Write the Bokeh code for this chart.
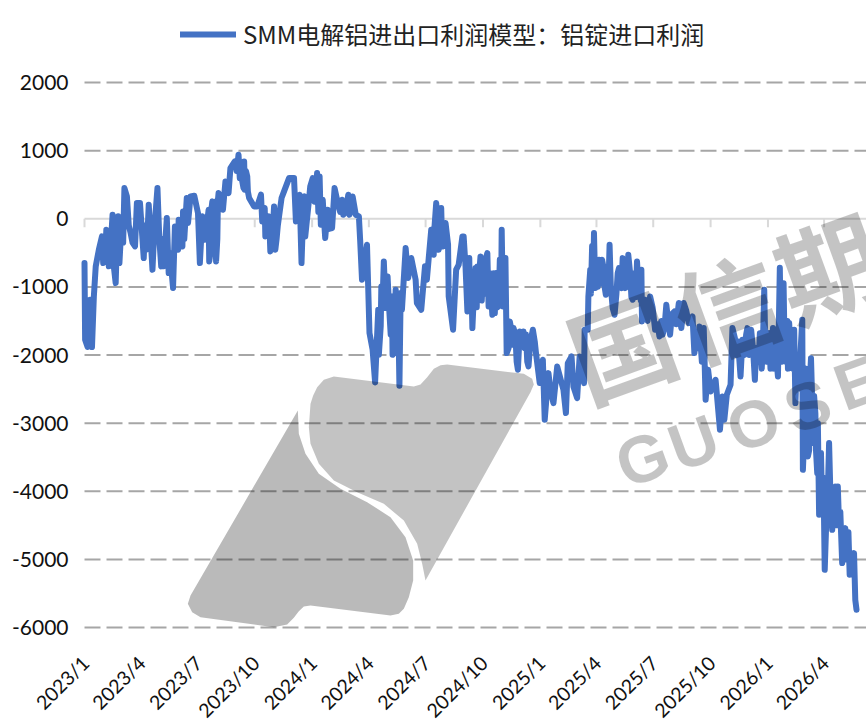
from datetime import date, timedelta
from bokeh.embed import file_html
from bokeh.resources import INLINE
from bokeh.plotting import figure
from bokeh.models import (ColumnDataSource, Legend, LegendItem, Label, PolyAnnotation, Range1d)

SERIES_NAME = "SMM电解铝进出口利润模型：铝锭进口利润"
START = date(2023, 1, 1)
tick_labels = ["2023/1","2023/4","2023/7","2023/10","2024/1","2024/4","2024/7","2024/10",
               "2025/1","2025/4","2025/7","2025/10","2026/1","2026/4"]
y_ticks = [2000,1000,0,-1000,-2000,-3000,-4000,-5000,-6000]
y_tick_labels = ["2000","1000","0","-1000","-2000","-3000","-4000","-5000","-6000"]

days_2023 = [0,1,5,9,12,15,18,23,28,30,35,39,45,50,54,58,64,68,74,81,84,89,95,103,109,117,123,127,132,135,142,145,150,151,157,158,164,166,170,176,182,185,
  189,193,199,200,205,211,214,215,222,226,231,234,241,247,249,256,257,261,264,272,277,283,285,289,290,296,298,304,306,312,316,320,328,336,339,345,348,353,354,360,362]
vals_2023 = [-650,-1776,-1883,-1189,-1883,-1140,-699,-455,-259,-650,-161,-699,59,-944,35,-308,450,328,-210,-406,230,230,-577,206,-748,450,-699,-699,10,-797,-1017,-112,-455,-14,-406,108,304,-63,328,338,84,-650,
  35,-308,132,-626,255,-626,279,377,132,548,377,744,842,940,597,842,426,622,304,181,181,353,-39,157,-259,35,-479,181,-455,35,304,402,597,597,-39,353,-650,328,-259,279,475]
days_2024 = [366,373,377,379,382,386,390,397,401,405,413,415,423,425,430,435,440,442,445,453,457,462,466,471,472,475,476,480,483,486,489,493,494,499,501,505,507,509,515,519,524,531,533,540,546,549,552,556,560,564,568,572,575,579,583,584,591,596,600,606,608,614,617,622,627,632,635,639,646,648,654,658,660,664,669,671,675,677,682,686,688,695,698,702,704,712,719,724]
vals_2024 = [597,671,622,-88,279,-283,132,-137,450,279,279,59,353,59,328,59,35,-308,-895,-381,-1678,-1923,-2402,-1336,-1996,-1580,-993,-626,-1311,-846,-1384,-1140,-1996,-1042,-1972,-2451,-1091,-1336,-430,-871,-577,-895,-1238,-1336,-699,-895,-577,-161,-528,230,-455,157,-406,-63,-381,-1140,-1629,-748,-675,-259,-259,-1360,-577,-1605,-724,-1189,-553,-822,-504,-1287,-1409,-1384,-797,-1287,-161,-1287,-577,-1972,-1507,-1849,-1605,-2216,-1654,-1874,-1654,-2167,-1629,-1972]
days_2025 = [730,735,738,744,747,752,758,768,772,775,781,784,790,794,801,802,807,808,811,817,819,825,830,836,842,847,850,857,861,863,867,872,879,886,893,894,899,907,915,922,927,933,939,946,953,957,961,969,975,978,986,993,996,1000,1004,1012,1019,1023,1026,1030,1036,1039,1043,1052,1055,1063,1069,1075,1079,1083,1090]
vals_2025 = [-2412,-2069,-2950,-2266,-2510,-2706,-2168,-2510,-2853,-2119,-2021,-2462,-2633,-2021,-2413,-1630,-1630,-1140,-749,-211,-1018,-602,-602,-1116,-382,-1312,-1410,-725,-1018,-578,-1018,-529,-1189,-627,-749,-1507,-1189,-1140,-1630,-1728,-1703,-1263,-1703,-1361,-1238,-1605,-1238,-1532,-1434,-1972,-1581,-1605,-2657,-2217,-2535,-2364,-3098,-2608,-2951,-2584,-2437,-1605,-1752,-2315,-1776,-1605,-1630,-2364,-1923,-1679,-1043]
days_2026 = [1092,1098,1103,1104,1112,1115,1121,1123,1130,1133,1138,1140,1146,1151,1152,1160,1165,1169,1172,1175,1178,1181,1187,1194,1199,1204,1208,1215,1220,1227,1234,1236,1238]
vals_2026 = [-2021,-1679,-2168,-1605,-2315,-720,-945,-2095,-1532,-2070,-1630,-2706,-2217,-1483,-3685,-3489,-2046,-3293,-2853,-3734,-4345,-3440,-5153,-3293,-4566,-3930,-3930,-5055,-4541,-5226,-4908,-5593,-5740]

# further swings read from the densely filled stretches of the curve
days_dense = [33,37,41,47,52,56,60,62,71,77,97,100,112,120,125,137,148,153,160,196,202,203,208,209,213,244,252,255,259,262,301,308,310,350,351,
  369,375,392,410,419,428,478,485,491,497,503,561,566,570,573,577,611,618,620,624,629,630,633,637,641,643,650,652,656,662,666,668,673,680,684,691,693,700,706,708,710,715,722,
  812,814,816,821,823,828,832,834,838,840,844,853,855,859,865,869,871,875,877,881,884,888,890,892,903,911,919,925,930,936,942,949,955,959,965,972,981,984,990,
  1045,1048,1058,1061,1066,1072,1077,1081,1086,1088,1094,1096,1100,1101,1106,1108,1110,1117,1119,1125,1127,1128,1135,1136,1142,1144,1148,
  1155,1157,1162,1163,1167,1170,1173,1176,1179,1183,1185,1190,1192,1196,1201,1206,1210,1212,1217,1222,1225,1230,1232]
vals_dense = [-620,-300,-550,-700,-300,-650,-100,-350,-100,-350,-100,-450,-150,-300,-300,-500,-200,-350,-300,-100,-500,100,-300,250,-300,700,600,450,700,400,-300,-300,-100,-100,250,
  250,100,-150,100,100,150,-1200,-1200,-1700,-1500,-1300,-150,-50,-300,-200,-300,-700,-1300,-800,-1200,-1300,-700,-800,-1200,-1100,-600,-800,-1100,-800,-1300,-600,-1200,-800,-1900,-1600,-1700,-2100,-1700,-1900,-1700,-2100,-1800,-1800,
  -1100,-400,-800,-700,-1000,-950,-700,-1000,-800,-1050,-1000,-1100,-800,-1000,-900,-700,-1000,-800,-1150,-800,-1150,-950,-750,-1200,-1500,-1300,-1550,-1500,-1600,-1500,-1400,-1550,-1450,-1450,-1350,-1500,-1700,-1900,-2100,
  -2000,-1800,-2000,-1700,-2000,-1900,-1900,-2100,-2200,-1800,-2100,-1700,-2200,-1700,-2200,-1650,-2100,-2100,-1600,-2000,-1500,-2200,-1700,-2200,-2200,-2500,-2000,
  -3000,-2200,-3400,-2400,-2700,-2600,-3400,-3000,-3900,-4300,-3800,-4300,-4000,-4000,-4000,-4500,-4500,-4300,-4700,-5000,-4600,-5000,-5000]

def ms(d):
    return (d - date(1970, 1, 1)).total_seconds() * 1000

merged = sorted(zip(days_2023 + days_2024 + days_2025 + days_2026 + days_dense,
                    vals_2023 + vals_2024 + vals_2025 + vals_2026 + vals_dense), key=lambda t: t[0])
dates = [ms(START + timedelta(days=d)) for d, _ in merged]
profit = [v for _, v in merged]
source = ColumnDataSource(dict(date=dates, profit=profit))

tick_ms = []
for lab in tick_labels:
    yy, mm = lab.split("/")
    tick_ms.append(ms(date(int(yy), int(mm), 1)))

W, H = 866, 721
PLOT_LEFT, PLOT_TOP, PLOT_BOTTOM = 84, 82, 627   # page pixels of 2023/1, 2000 and -6000
UNITS_PER_PX = 8000 / (PLOT_BOTTOM - PLOT_TOP)
MS_PER_PX = (ms(date(2026, 4, 1)) - ms(START)) / 739.6
x_start = ms(START)
x_end = x_start + (W - PLOT_LEFT) * MS_PER_PX
x_low = x_start - PLOT_LEFT * MS_PER_PX
y_top = 2000 + PLOT_TOP * UNITS_PER_PX
y_low = -6000 - (H - PLOT_BOTTOM) * UNITS_PER_PX

# the frame fills the page so that slanted date labels left of the first tick are not cut
p = figure(width=W, height=H, output_backend="svg", toolbar_location=None, x_axis_type=None, y_axis_type=None,
           y_range=Range1d(y_low, y_top), x_range=Range1d(x_low, x_end),
           min_border=0, outline_line_color=None,
           background_fill_color="white", border_fill_color="white")

for tx, lab in zip(tick_ms, tick_labels):
    p.add_layout(Label(x=tx, y=-6000, text=lab, angle=45, angle_units="deg", x_offset=1, y_offset=-32,
                       text_align="right", text_baseline="middle", text_font="Lato", text_font_size="19.5px",
                       text_color="#111111", level="annotation"))
for ty, lab in zip(y_ticks, y_tick_labels):
    p.add_layout(Label(x=x_start, y=ty, text=lab, x_offset=-16, text_align="right", text_baseline="middle",
                       text_font="Lato", text_font_size="21px", text_color="#111111", level="annotation"))

grid_y = [t for t in y_ticks if t != 0]
p.segment(x0=[x_start]*len(grid_y), y0=grid_y, x1=[x_end]*len(grid_y), y1=grid_y,
          line_color="#a6a6a6", line_width=2, line_dash="16 6")
p.segment(x0=[x_start], y0=[0], x1=[x_end], y1=[0], line_color="#d9d9d9", line_width=2)
p.segment(x0=tick_ms, y0=[0]*len(tick_ms), x1=tick_ms, y1=[-125]*len(tick_ms), line_color="#d9d9d9", line_width=2)

line = p.line("date", "profit", source=source, line_color="#4472C4", line_width=6,
              line_join="round", line_cap="round")

legend = Legend(items=[LegendItem(label=SERIES_NAME, renderers=[line])],
                location=(180, H - 51), orientation="horizontal", background_fill_alpha=0,
                border_line_color=None, glyph_width=56, glyph_height=10, label_standoff=7,
                label_text_font="Noto Sans CJK SC", label_text_font_size="24px",
                label_text_color="#222222", margin=0, padding=0)
p.add_layout(legend, "center")

# watermark (overlay, darkens whatever is beneath); screen units run from the frame's lower left
def sx(x):
    return x
def sy(y):
    return H - y
def px(xs):
    return [sx(170 + v / 3) for v in xs]
def py(ys):
    return [sy(360 + v / 3) for v in ys]

up_x = [440,460,490,730,750,770,790,810,830,1060,1085,1090,1080,765,755,740,700,640,560,490,445,420,415,420,428]
up_y = [80,58,48,78,72,50,25,14,12,40,55,72,95,660,610,550,480,430,395,360,310,250,200,130,105]
lo_x = [382,385,405,445,510,590,660,705,728,728,715,700,685,660,420,400,385,370,350,310,90,65,52,60]
lo_y = [150,220,280,340,385,425,470,530,600,660,710,745,760,765,735,738,752,772,792,800,770,755,730,705]
for xs, ys, a in ((up_x, up_y, 0.235), (lo_x, lo_y, 0.27)):
    p.add_layout(PolyAnnotation(xs=px(xs), ys=py(ys), xs_units="screen", ys_units="screen",
                 fill_color="black", fill_alpha=a, line_color=None, level="overlay"))

for ch, cx, cy in (("国", 620, 342), ("信", 725, 303), ("期", 827, 263)):
    p.add_layout(Label(x=sx(cx), y=sy(cy), x_units="screen", y_units="screen", text=ch, angle=20, angle_units="deg",
                 text_align="center", text_baseline="middle", text_font="Noto Sans CJK SC", text_font_style="bold",
                 text_font_size="105px", text_color="black", text_alpha=0.23, level="overlay"))
for ch, cx, cy in (("G", 642, 458), ("U", 693, 442), ("O", 753, 423), ("S", 807, 405), ("E", 857, 382)):
    p.add_layout(Label(x=sx(cx), y=sy(cy), x_units="screen", y_units="screen", text=ch, angle=20, angle_units="deg",
                 text_align="center", text_baseline="middle", text_font="Liberation Sans", text_font_style="bold",
                 text_font_size="66px", text_color="black", text_alpha=0.23, level="overlay"))

open("out.html", "w").write(file_html(p, INLINE))
